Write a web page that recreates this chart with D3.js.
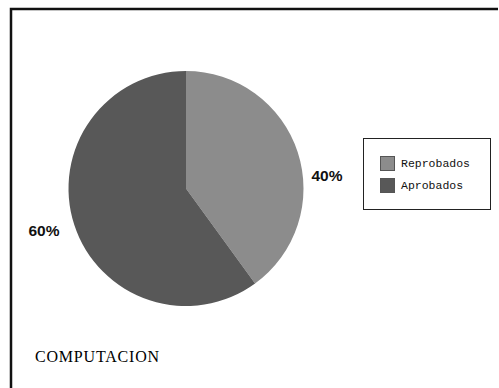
<!DOCTYPE html>
<html>
<head>
<meta charset="utf-8">
<script src="https://cdn.jsdelivr.net/npm/d3@7/dist/d3.min.js"></script>
<style>
  html, body { margin: 0; padding: 0; background: #fff; }
  svg { display: block; }
</style>
</head>
<body>
<svg id="chart" width="499" height="388"></svg>
<script>
// Pass / fail share for the course
const categories = ["Reprobados", "Aprobados"];
const values = [40, 60];
const colors = ["#8c8c8c", "#585858"];
const title = "COMPUTACION";

const svg = d3.select("#chart");
const W = 499, H = 388;

svg.append("rect").attr("width", W).attr("height", H).attr("fill", "#fff");

// frame: top and left edges
svg.append("path")
  .attr("d", `M11,${H} L11,9 L${W - 1},9`)
  .attr("fill", "none")
  .attr("stroke", "#111")
  .attr("stroke-width", 2.5);

const cx = 186, cy = 188.5, r = 117.5;

const pie = d3.pie().sort(null).value(d => d.v);
const arcs = pie(categories.map((c, i) => ({ c, v: values[i], col: colors[i] })));
const arc = d3.arc().innerRadius(0).outerRadius(r);

const g = svg.append("g").attr("transform", `translate(${cx},${cy})`);
g.selectAll("path.slice")
  .data(arcs)
  .join("path")
  .attr("class", "slice")
  .attr("d", arc)
  .attr("fill", d => d.data.col);

// percentage labels outside the slices
const total = d3.sum(values);
const labelPos = [[327, 181], [44, 236]];
svg.selectAll("text.pct")
  .data(arcs)
  .join("text")
  .attr("class", "pct")
  .attr("x", (d, i) => labelPos[i][0])
  .attr("y", (d, i) => labelPos[i][1])
  .attr("text-anchor", "middle")
  .attr("font-family", "Liberation Sans, Arial, sans-serif")
  .attr("font-weight", "bold")
  .attr("font-size", 15.5)
  .attr("fill", "#111")
  .text(d => Math.round(d.data.v / total * 100) + "%");

// legend
const lg = svg.append("g");
lg.append("rect")
  .attr("x", 363.5).attr("y", 138.5)
  .attr("width", 127).attr("height", 71)
  .attr("fill", "#fff")
  .attr("stroke", "#222")
  .attr("stroke-width", 1);

const items = lg.selectAll("g.item")
  .data(categories)
  .join("g")
  .attr("class", "item")
  .attr("transform", (d, i) => `translate(380.5,${156.5 + i * 22})`);

items.append("rect")
  .attr("width", 14).attr("height", 14)
  .attr("fill", (d, i) => colors[i])
  .attr("stroke", "#555")
  .attr("stroke-width", 1);

items.append("text")
  .attr("x", 20.5).attr("y", 10.5)
  .attr("font-family", "Liberation Mono, Courier New, monospace")
  .attr("font-size", 11.5)
  .attr("fill", "#111")
  .text(d => d);

// caption
svg.append("text")
  .attr("x", 35).attr("y", 361.5)
  .attr("font-family", "Liberation Serif, Times New Roman, serif")
  .attr("font-size", 16)
  .attr("letter-spacing", 0.8)
  .attr("fill", "#000")
  .text(title);
</script>
</body>
</html>
